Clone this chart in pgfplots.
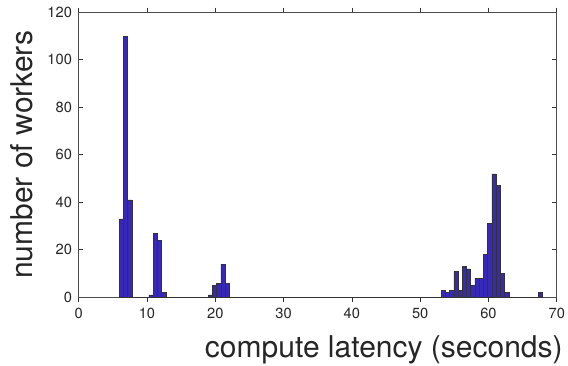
\documentclass[border=0pt]{standalone}
\usepackage{pgfplots}
\pgfplotsset{compat=1.18}
\usepackage{pgfplotstable}
\usepackage{fontspec}
\setmainfont{TeX Gyre Heros}
\definecolor{barcol}{RGB}{56,40,184}
\definecolor{txt}{RGB}{38,38,38}
\pgfplotstableread{
x y
6.25 33
6.87 110
7.49 41
8.11 0
8.73 0
9.35 0
9.97 0
10.59 1
11.21 27
11.83 24
12.45 2
13.07 0
13.69 0
14.31 0
14.93 0
15.55 0
16.17 0
16.79 0
17.41 0
18.03 0
18.65 0
19.27 1
19.89 5
20.51 6
21.13 14
21.75 6
22.37 0
22.99 0
23.61 0
24.23 0
24.85 0
25.47 0
26.09 0
26.71 0
27.33 0
27.95 0
28.57 0
29.19 0
29.81 0
30.43 0
31.05 0
31.67 0
32.29 0
32.91 0
33.53 0
34.15 0
34.77 0
35.39 0
36.01 0
36.63 0
37.25 0
37.87 0
38.49 0
39.11 0
39.73 0
40.35 0
40.97 0
41.59 0
42.21 0
42.83 0
43.45 0
44.07 0
44.69 0
45.31 0
45.93 0
46.55 0
47.17 0
47.79 0
48.41 0
49.03 0
49.65 0
50.27 0
50.89 0
51.51 0
52.13 0
52.75 0
53.37 3
53.99 2
54.61 3
55.23 11
55.85 3
56.47 13
57.09 12
57.71 5
58.33 8
58.95 8
59.57 18
60.19 31
60.81 52
61.43 47
62.05 10
62.67 2
63.29 0
63.91 0
64.53 0
65.15 0
65.77 0
66.39 0
67.01 0
67.63 2
}\histdata
\begin{document}
\begin{tikzpicture}
\path[use as bounding box] (-59pt,-51.5pt) rectangle (367pt,223pt);
\begin{axis}[
  at={(0,0)}, anchor=south west,
  scale only axis,
  width=358.6pt, height=213.75pt,
  xmin=0, xmax=70, ymin=0, ymax=120,
  xtick={0,10,...,70}, ytick={0,20,...,120},
  tick align=inside,
  major tick length=3.5pt,
  axis line style={black!70, line width=0.5pt},
  every tick/.style={black!80, line width=0.5pt},
  /pgf/number format/assume math mode=true,
  tick label style={font=\fontsize{11}{13}\selectfont, text=txt},
  xticklabel style={yshift=-1pt},
  yticklabel style={xshift=-1.5pt},
  xlabel={compute latency (seconds)},
  ylabel={number of workers},
  xlabel style={font=\fontsize{22.5}{27}\selectfont, text=txt, inner sep=0pt,
    at={(axis description cs:1.0128,-0.2095)}, anchor=base east},
  ylabel style={font=\fontsize{22.5}{27}\selectfont, text=txt, inner sep=0pt,
    at={(axis description cs:-0.0956,0.5)}, anchor=base, rotate=0},
  ybar, bar width=0.62,
]
\addplot[fill=barcol, draw=black!80, line width=0.4pt] table[x=x,y=y] {\histdata};
\end{axis}
\end{tikzpicture}
\end{document}
